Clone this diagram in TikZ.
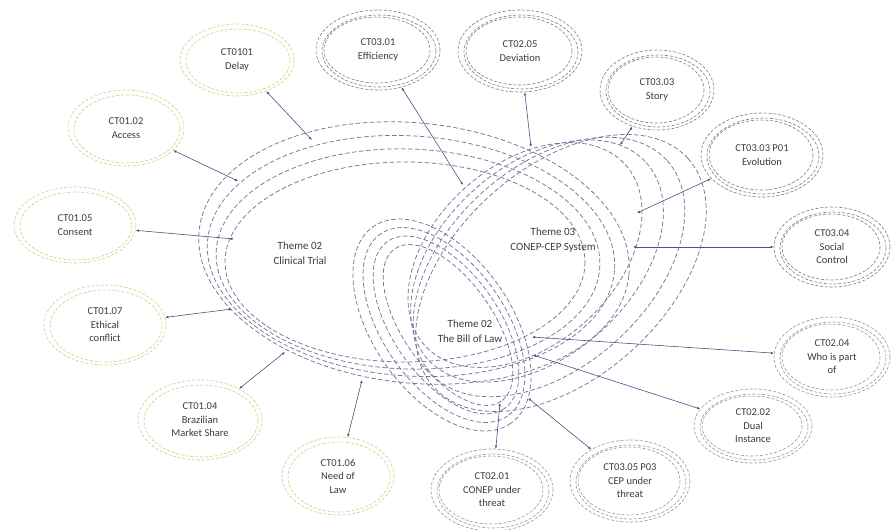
\documentclass[tikz,border=0pt]{standalone}
\usepackage{fontspec}
\setmainfont{Carlito}
\usetikzlibrary{arrows.meta,shapes.geometric}
\definecolor{yel}{RGB}{214,204,130}
\definecolor{gry}{RGB}{125,125,125}
\definecolor{tanc}{RGB}{168,146,132}
\definecolor{thm}{RGB}{112,120,152}
\definecolor{lnk}{RGB}{70,85,135}
\definecolor{txt}{RGB}{60,60,60}
\tikzset{
  ring/.style={dash pattern=on 3pt off 1.8pt, line width=0.6pt},
  thline/.style={draw=thm, dash pattern=on 4.5pt off 2.5pt, line width=0.75pt},
  sat/.style={ellipse, inner sep=0pt, text=txt, align=center, font=\fontsize{10.5}{13.5}\selectfont},
  theme/.style={text=txt, align=center, font=\fontsize{11}{14.5}\selectfont},
  link/.style={draw=lnk, line width=0.6pt, {Latex[length=3.2pt,width=2.6pt]}-{Latex[length=3.2pt,width=2.6pt]}},
}
% name, x, y, rx, ry, colour, text
\newcommand\satA[7]{%
  \node[sat, draw=#6, ring, minimum width={2*#4pt}, minimum height={2*#5pt}] (#1) at (#2,#3) {#7};
  \draw[#6, ring] (#2+1,#3+1) ellipse [x radius=#4-5, y radius=#5-4];
}
\newcommand\satB[7]{%
  \node[sat, draw=#6, ring, minimum width={2*#4pt}, minimum height={2*#5pt}] (#1) at (#2,#3) {#7};
  \draw[#6, ring] (#2+1,#3+1) ellipse [x radius=#4-5, y radius=#5-4];
  \draw[#6, ring] (#2-1,#3) ellipse [x radius=#4-9, y radius=#5-7];
}
\begin{document}
\begin{tikzpicture}[x=1pt,y=-1pt]
\path[use as bounding box, fill=white] (0,0) rectangle (892,530);

% Theme 02 Clinical Trial
\draw[thline] (405,262) ellipse [x radius=180, y radius=100];
\draw[thline, rotate around={-2:(408,259)}] (408,259) ellipse [x radius=192, y radius=110];
\draw[thline, rotate around={-4:(411,256)}] (411,256) ellipse [x radius=204, y radius=120];
\draw[thline, rotate around={-6:(414,253)}] (414,253) ellipse [x radius=216, y radius=130];

% Theme 03 CONEP-CEP System
\draw[thline, rotate around={42:(525,255)}] (525,255) ellipse [x radius=135, y radius=90];
\draw[thline, rotate around={42:(537,261)}] (537,261) ellipse [x radius=147, y radius=95];
\draw[thline, rotate around={42:(549,267)}] (549,267) ellipse [x radius=159, y radius=100];
\draw[thline, rotate around={42:(561,273)}] (561,273) ellipse [x radius=171, y radius=105];

% Theme 02 The Bill of Law
\draw[thline, rotate around={-55:(448,325)}] (448,325) ellipse [x radius=93, y radius=45];
\draw[thline, rotate around={-55:(446,325)}] (446,325) ellipse [x radius=102, y radius=53];
\draw[thline, rotate around={-55:(444,325)}] (444,325) ellipse [x radius=111, y radius=61];
\draw[thline, rotate around={-55:(442,325)}] (442,325) ellipse [x radius=120, y radius=69];

% theme labels
\node[theme] (tct) at (300,253) {Theme 02\\Clinical Trial};
\node[theme] (tcs) at (553,240) {Theme 03\\CONEP-CEP System};
\node[theme] (tbl) at (470,331) {Theme 02\\The Bill of Law};

% satellites
\satA{delay}{237}{60}{57}{36}{yel}{CT0101\\Delay}
\satA{access}{126}{128}{58}{38}{yel}{CT01.02\\Access}
\satA{consent}{75}{225}{61}{38}{yel}{CT01.05\\Consent}
\satA{ethical}{105}{325}{61}{40}{yel}{CT01.07\\Ethical\\conflict}
\satA{brazil}{200}{420}{62}{40}{yel}{CT01.04\\Brazilian\\Market Share}
\satA{needlaw}{338}{476}{56}{39}{yel}{CT01.06\\Need of\\Law}
\satB{conep}{492}{490}{61}{41}{tanc}{CT02.01\\CONEP under\\threat}
\satB{cep}{630}{481}{60}{41}{tanc}{CT03.05 P03\\CEP under\\threat}
\satB{dual}{753}{426}{59}{37}{tanc}{CT02.02\\Dual\\Instance}
\satB{who}{832}{357}{58}{40}{tanc}{CT02.04\\Who is part\\of}
\satB{social}{832}{247}{58}{40}{gry}{CT03.04\\Social\\Control}
\satB{evol}{762}{155}{61}{42}{gry}{CT03.03 P01\\Evolution}
\satB{story}{657}{90}{57}{40}{gry}{CT03.03\\Story}
\satB{devi}{520}{51}{62}{41}{gry}{CT02.05\\Deviation}
\satB{effic}{378}{50}{62}{40}{gry}{CT03.01\\Efficiency}

% connector ends on the theme ellipses
\coordinate (edelay) at (312,140);
\coordinate (eaccess) at (238,181);
\coordinate (econsent) at (234,239);
\coordinate (eethical) at (232,309);
\coordinate (ebrazil) at (285,352);
\coordinate (eneed) at (362,380);
\coordinate (econep) at (500,403);
\coordinate (ecep) at (528,398);
\coordinate (edual) at (533,355);
\coordinate (ewho) at (532,337);
\coordinate (esocial) at (633,247);
\coordinate (eevol) at (637,213);
\coordinate (estory) at (620,145);
\coordinate (edevi) at (531,147);
\coordinate (eeffic) at (463,185);

\draw[link] (delay) -- (edelay);
\draw[link] (access) -- (eaccess);
\draw[link] (consent) -- (econsent);
\draw[link] (ethical) -- (eethical);
\draw[link] (brazil) -- (ebrazil);
\draw[link] (needlaw) -- (eneed);
\draw[link] (conep) -- (econep);
\draw[link] (cep) -- (ecep);
\draw[link] (dual) -- (edual);
\draw[link] (who) -- (ewho);
\draw[link] (social) -- (esocial);
\draw[link] (evol) -- (eevol);
\draw[link] (story) -- (estory);
\draw[link] (devi) -- (edevi);
\draw[link] (effic) -- (eeffic);
\end{tikzpicture}
\end{document}
